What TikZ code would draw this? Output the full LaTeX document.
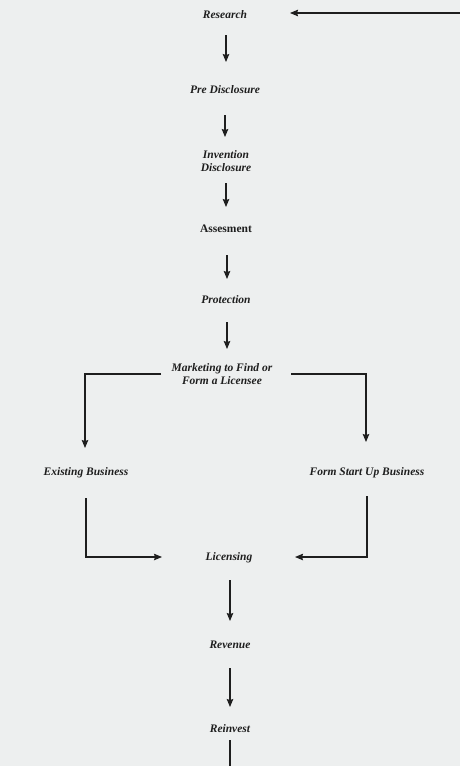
\documentclass[tikz,border=0pt]{standalone}
\usepackage{fontspec}
\setmainfont{Liberation Serif}
\usetikzlibrary{arrows.meta}
\definecolor{bg}{HTML}{EDEFEF}
\definecolor{ink}{HTML}{1E1E1E}
\begin{document}
\begin{tikzpicture}[x=1pt,y=-1pt,
  lbl/.style={font=\fontsize{11.5}{13.5}\selectfont\bfseries\itshape, text=ink, align=center, inner sep=1pt},
  lblup/.style={font=\fontsize{11.5}{13.5}\selectfont\bfseries, text=ink, align=center, inner sep=1pt},
  conn/.style={draw=ink, line width=1.1pt, -{Stealth[length=8pt,width=6.5pt,inset=1pt]}},
  plain/.style={draw=ink, line width=1.1pt}]
\fill[bg] (0,0) rectangle (460,766);
\useasboundingbox (0,0) rectangle (460,766);

\node[lbl] (res) at (225,15) {Research};
\node[lbl] (pre) at (225,90) {Pre Disclosure};
\node[lbl] (inv) at (226,161) {Invention\\Disclosure};
\node[lblup] (ass) at (226,229) {Assesment};
\node[lbl] (pro) at (226,300) {Protection};
\node[lbl] (mkt) at (222,374) {Marketing to Find or\\Form a Licensee};
\node[lbl] (ex) at (86,473) {Existing Business};
\node[lbl] (fs) at (367,473) {Form Start Up Business};
\node[lbl] (lic) at (229,558) {Licensing};
\node[lbl] (rev) at (230,645) {Revenue};
\node[lbl] (rei) at (230,729) {Reinvest};

\coordinate (inR) at (460,13);
\coordinate (outB) at (230,766);
\coordinate (mL) at (161,374);
\coordinate (mR) at (291,374);

\draw[conn] (inR) -- (290,13);
\draw[conn] (226,35) -- (226,62);
\draw[conn] (225,115) -- (225,137);
\draw[conn] (226,183) -- (226,207);
\draw[conn] (227,255) -- (227,279);
\draw[conn] (227,322) -- (227,349);

\draw[conn] (mL) -- (85,374) -- (85,448);
\draw[conn] (mR) -- (366,374) -- (366,442);

\draw[conn] (86,498) -- (86,557) -- (162,557);
\draw[conn] (367,496) -- (367,557) -- (295,557);

\draw[conn] (230,580) -- (230,621);
\draw[conn] (230,668) -- (230,707);
\draw[plain] (230,740) -- (outB);
\end{tikzpicture}
\end{document}
